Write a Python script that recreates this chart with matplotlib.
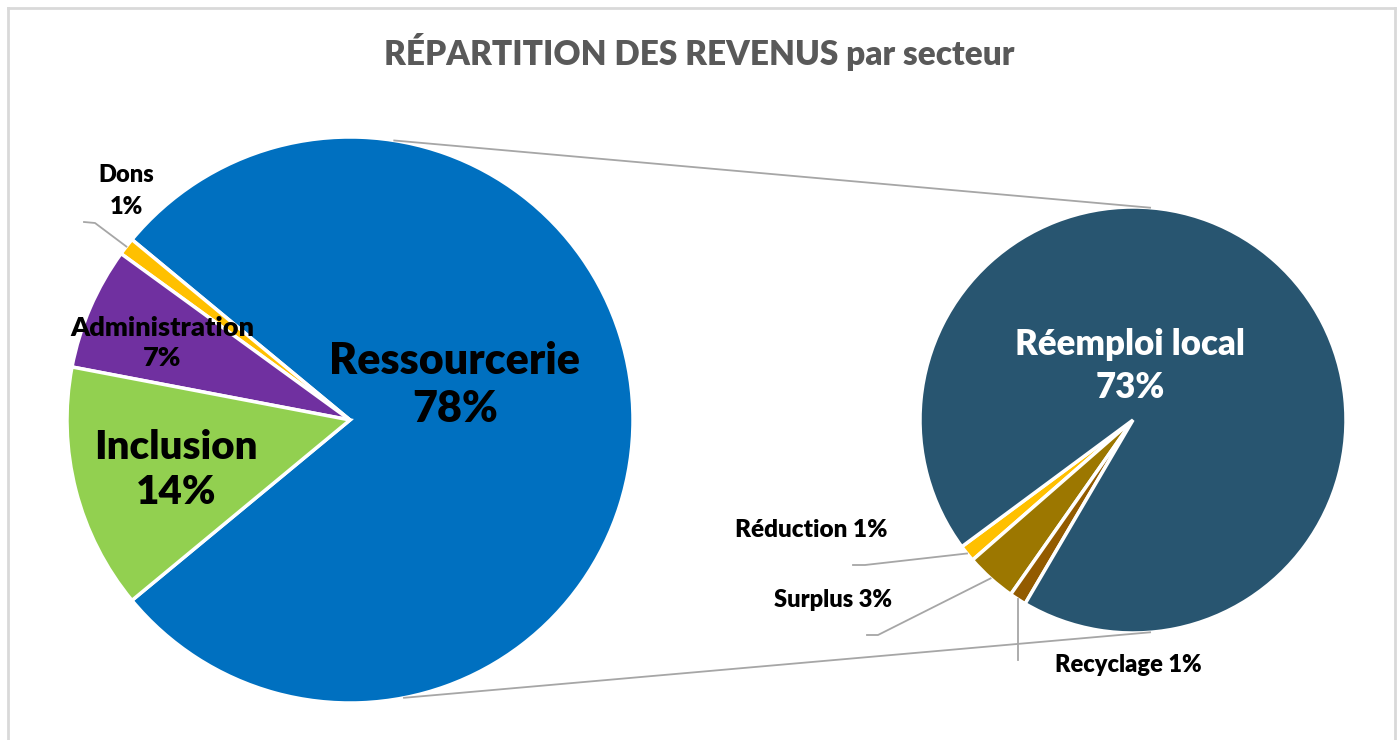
import numpy as np
import matplotlib.pyplot as plt
from matplotlib.lines import Line2D

plt.rcParams['font.family'] = ['Lato', 'DejaVu Sans']
plt.rcParams['font.weight'] = 'bold'

# main pie: revenue by sector (% of total)
main_labels = ['Ressourcerie', 'Dons', 'Administration', 'Inclusion']
main_values = [78, 1, 7, 14]
main_colors = ['#0070C0', '#FFC000', '#7030A0', '#92D050']

# secondary pie: breakdown of Ressourcerie (% of total)
sub_labels = ['Réduction', 'Surplus', 'Recyclage', 'Réemploi local']
sub_values = [1, 3, 1, 73]
sub_colors = ['#FFC000', '#9C7700', '#935B00', '#285570']

W, H = 1398, 740
fig = plt.figure(figsize=(W / 100, H / 100), dpi=100)
ax = fig.add_axes([0, 0, 1, 1])

c1, r1 = (350, 320), 283
c2, r2 = (1133, 320), 213

start1 = -main_values[0] / sum(main_values) * 180
w1, _ = ax.pie(main_values, colors=main_colors, startangle=start1, center=c1, radius=r1,
               counterclock=True, wedgeprops=dict(edgecolor='white', linewidth=2.5))

start2 = 216.5
w2, _ = ax.pie(sub_values, colors=sub_colors, startangle=start2, center=c2, radius=r2,
               counterclock=True, wedgeprops=dict(edgecolor='white', linewidth=2.5))

ax.set_xlim(0, W)
ax.set_ylim(0, H)
ax.set_aspect('equal')
ax.axis('off')


def pt(c, r, ang):
    a = np.deg2rad(ang)
    return c[0] + r * np.cos(a), c[1] + r * np.sin(a)


def mid(w):
    return (w.theta1 + w.theta2) / 2


# connector lines between the two pies
grey = '#A6A6A6'
for a1, a2 in [(81, 85.4), (-79, -85.4)]:
    x1, y1 = pt(c1, r1, a1)
    x2, y2 = pt(c2, r2, a2)
    ax.plot([x1, x2], [y1, y2], color=grey, lw=1.3)

def pct(v):
    return f'{v}%'

# main pie labels
ax.text(455, 355, main_labels[0] + '\n' + pct(main_values[0]), ha='center', va='center',
        fontsize=31, fontweight='heavy', linespacing=1.25)
ax.text(176, 270, main_labels[3] + '\n' + pct(main_values[3]), ha='center', va='center',
        fontsize=29, fontweight='heavy', linespacing=1.28)
ax.text(162, 397, main_labels[2] + '\n' + pct(main_values[2]), ha='center', va='center',
        fontsize=19.5, fontweight='heavy', linespacing=1.35)
ax.text(126, 549, main_labels[1] + '\n' + pct(main_values[1]), ha='center', va='center',
        fontsize=17, fontweight='heavy', linespacing=1.6)
ex, ey = pt(c1, r1, mid(w1[1]))
ax.plot([84, 95, ex], [518, 517, ey], color=grey, lw=1.3)

# secondary pie labels
ax.text(1130, 374, sub_labels[3] + '\n' + pct(sub_values[3]), ha='center', va='center',
        fontsize=25, fontweight='heavy', color='white', linespacing=1.35)
ax.text(811, 210, f'{sub_labels[0]} {pct(sub_values[0])}', ha='center', va='center',
        fontsize=17.5, fontweight='heavy')
ax.text(833, 140, f'{sub_labels[1]} {pct(sub_values[1])}', ha='center', va='center',
        fontsize=17, fontweight='heavy')
ax.text(1128, 75, f'{sub_labels[2]} {pct(sub_values[2])}', ha='center', va='center',
        fontsize=17, fontweight='heavy')

ex, ey = pt(c2, r2, mid(w2[0]))
ax.plot([853, 865, ex], [175, 175, ey], color=grey, lw=1.3)
ex, ey = pt(c2, r2, mid(w2[1]))
ax.plot([867, 878, ex], [105, 105, ey], color=grey, lw=1.3)
ex, ey = pt(c2, r2, mid(w2[2]))
ax.plot([ex, ex], [ey, 80], color=grey, lw=1.3)

# title
ax.text(W / 2, H - 52, 'RÉPARTITION DES REVENUS par secteur', ha='center', va='center',
        fontsize=24, fontweight='heavy', color='#595959')

# chart area border
for xs, ys in [([8, 8], [0, H - 8]), ([8, W - 3], [H - 8, H - 8]), ([W - 3, W - 3], [0, H - 8])]:
    fig.add_artist(Line2D(np.array(xs) / W, np.array(ys) / H, color='#D9D9D9', lw=2))

fig.savefig('out.png', dpi=100, facecolor='white')
